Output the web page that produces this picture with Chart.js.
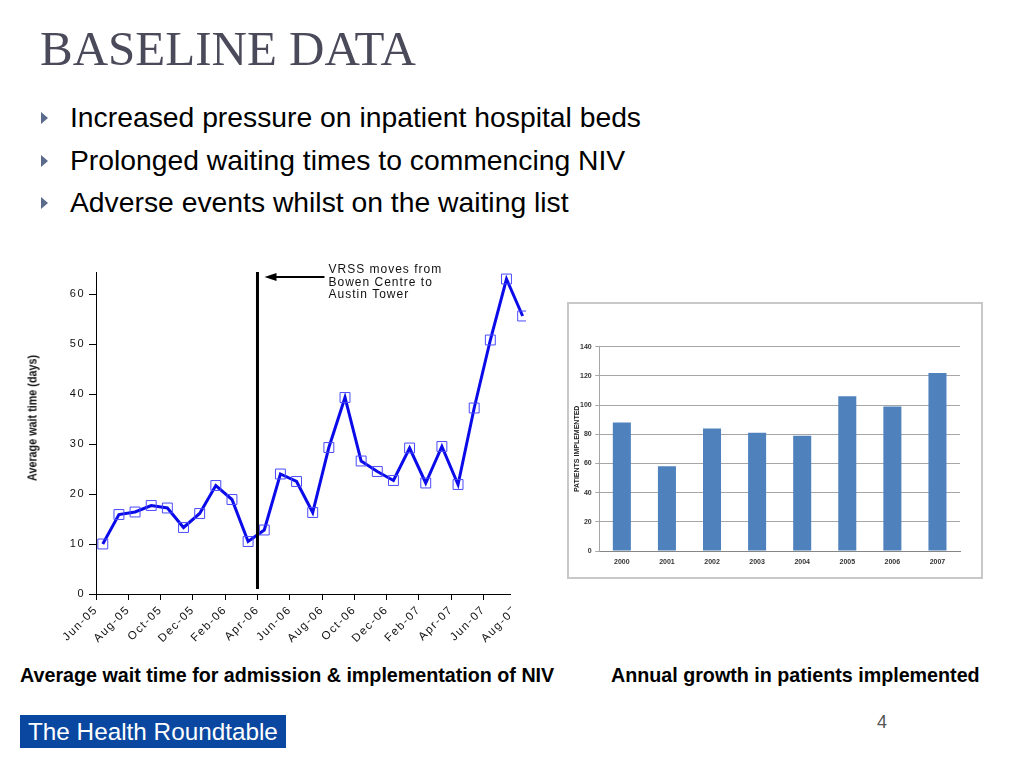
<!DOCTYPE html>
<html>
<head>
<meta charset="utf-8">
<title>Baseline data</title>
<script src="https://cdn.jsdelivr.net/npm/chart.js@4.4.1/dist/chart.umd.min.js"></script>
<style>
  html, body { margin: 0; padding: 0; background: #fff; }
  body { width: 1024px; height: 768px; position: relative; overflow: hidden; font-family: 'Liberation Sans', Arial, sans-serif; }
  .abs { position: absolute; white-space: nowrap; }
  #title { left: 40px; top: 24px; font-family: 'Liberation Serif', 'Times New Roman', serif; font-size: 49px; line-height: 49px; color: #4a4a5a; }
  .bullet { left: 70px; font-size: 28.3px; line-height: 28px; color: #000; }
  .tri { left: 41px; width: 0; height: 0; border-top: 6px solid transparent; border-bottom: 6px solid transparent; border-left: 7px solid #5a6b8c; }
  #waitWrap { left: 0; top: 250px; width: 540px; height: 400px; clip-path: polygon(0 0, 526px 0, 526px 342px, 511px 342px, 511px 400px, 0 400px); }
  #waitTitle { left: 32px; top: 418px; font-weight: bold; font-size: 13px; color: #111; transform: translate(-50%, -50%) rotate(-90deg) scaleX(0.83); }
  #growthBox { left: 567px; top: 302px; width: 416px; height: 277px; box-sizing: border-box; border: 2px solid #c8c8c8; background: #fff; }
  #growthWrap { left: 569px; top: 304px; width: 410px; height: 272px; }
  .caption { top: 665px; font-size: 19.7px; line-height: 20px; font-weight: bold; color: #000; }
  #brand { left: 20px; top: 715px; width: 266px; height: 33px; background: #0a47a0; color: #fff; font-size: 24.3px; line-height: 33px; padding-left: 8px; box-sizing: border-box; }
  #pageNo { left: 877px; top: 712px; font-size: 18px; color: #555; }
</style>
</head>
<body>
<div id="title" class="abs">BASELINE DATA</div>

<div class="abs tri" style="top:112px"></div>
<div class="abs bullet" style="top:103px">Increased pressure on inpatient hospital beds</div>
<div class="abs tri" style="top:155px"></div>
<div class="abs bullet" style="top:146px">Prolonged waiting times to commencing NIV</div>
<div class="abs tri" style="top:197px"></div>
<div class="abs bullet" style="top:188px">Adverse events whilst on the waiting list</div>

<div id="waitWrap" class="abs"><canvas id="waitChart" width="540" height="400"></canvas></div>
<div id="waitTitle" class="abs">Average wait time (days)</div>

<div id="growthBox" class="abs"></div>
<div id="growthWrap" class="abs"><canvas id="growthChart" width="410" height="272"></canvas></div>

<div class="abs caption" style="left:20px">Average wait time for admission &amp; implementation of NIV</div>
<div class="abs caption" style="left:611px">Annual growth in patients implemented</div>

<div id="brand" class="abs">The Health Roundtable</div>
<div id="pageNo" class="abs">4</div>

<script>
// Monthly average wait (days), Jun-05 .. Aug-07
const months = ['Jun-05', 'Jul-05', 'Aug-05', 'Sep-05', 'Oct-05', 'Nov-05', 'Dec-05',
    'Jan-06', 'Feb-06', 'Mar-06', 'Apr-06', 'May-06', 'Jun-06', 'Jul-06', 'Aug-06', 'Sep-06',
    'Oct-06', 'Nov-06', 'Dec-06', 'Jan-07', 'Feb-07', 'Mar-07', 'Apr-07', 'May-07', 'Jun-07',
    'Jul-07', 'Aug-07'];
const waitDays = [10.0, 15.9, 16.4, 17.7, 17.2, 13.3, 16.1, 21.7, 18.9, 10.5, 12.8, 24.0, 22.5,
    16.3, 29.3, 39.3, 26.6, 24.5, 22.7, 29.2, 22.2, 29.5, 21.9, 37.2, 50.8, 63.0, 55.6];
const waitTicks = [0, 10, 20, 30, 40, 50, 60];
const moveMonth = 'Apr-06';
const moveNote = ['VRSS moves from', 'Bowen Centre to', 'Austin Tower'];

// Patients implemented per year
const years = ['2000', '2001', '2002', '2003', '2004', '2005', '2006', '2007'];
const patients = [88, 58, 84, 81, 79, 106, 99, 122];

// points sit mid-month, ticks at the start of the month
const pointOffset = 0.42;

// Vertical marker + arrow + note for the VRSS move
const moveLine = {
    id: 'moveLine',
    beforeDraw(chart) {
        chart.ctx.letterSpacing = '1.5px';
    },
    afterDatasetsDraw(chart) {
        const { ctx, chartArea, scales: { x, y } } = chart;
        const px = x.getPixelForValue(months.indexOf(moveMonth));
        ctx.save();
        ctx.strokeStyle = '#000';
        ctx.fillStyle = '#000';
        ctx.lineWidth = 3;
        ctx.beginPath();
        ctx.moveTo(px, chartArea.top);
        ctx.lineTo(px, y.getPixelForValue(1));
        ctx.stroke();

        const ay = chartArea.top + 5;
        ctx.lineWidth = 2;
        ctx.beginPath();
        ctx.moveTo(px + 67, ay);
        ctx.lineTo(px + 14, ay);
        ctx.stroke();
        ctx.beginPath();
        ctx.moveTo(px + 7, ay);
        ctx.lineTo(px + 19, ay - 4);
        ctx.lineTo(px + 19, ay + 4);
        ctx.closePath();
        ctx.fill();

        ctx.font = '12px "Liberation Sans", Arial, sans-serif';
        ctx.letterSpacing = '1px';
        ctx.textBaseline = 'middle';
        ctx.fillStyle = '#111';
        moveNote.forEach((line, i) => {
            ctx.fillText(line, px + 71, chartArea.top - 2 + i * 12.5);
        });
        ctx.restore();
    }
};

new Chart(document.getElementById('waitChart'), {
    type: 'line',
    data: {
        datasets: [{
            data: waitDays.map((v, i) => ({ x: i + pointOffset, y: v })),
            borderColor: '#0b0bea',
            borderWidth: 3,
            tension: 0,
            pointStyle: 'rect',
            pointRadius: 7,
            pointBorderWidth: 1,
            pointBorderColor: '#4a4aff',
            pointBackgroundColor: 'rgba(0,0,0,0)',
            clip: false
        }]
    },
    options: {
        responsive: false,
        animation: false,
        layout: { padding: { top: 22, right: 5.25, left: 0, bottom: 0 } },
        plugins: { legend: { display: false }, tooltip: { enabled: false } },
        scales: {
            x: {
                type: 'linear',
                min: 0,
                max: 27,
                // one tick every second month
                afterBuildTicks: s => { s.ticks = months.map((m, i) => ({ value: i })).filter(t => t.value % 2 === 0); },
                afterFit: s => { s.height = 56; },
                ticks: {
                    autoSkip: false,
                    minRotation: 45,
                    maxRotation: 45,
                    padding: 3,
                    color: '#111',
                    font: { family: 'Liberation Sans', size: 11.5 },
                    callback: v => months[v]
                },
                grid: { drawOnChartArea: false, tickLength: 6, color: '#000' },
                border: { color: '#000', width: 1 }
            },
            y: {
                min: 0,
                max: 64.4,
                afterBuildTicks: s => { s.ticks = waitTicks.map(v => ({ value: v })); },
                afterFit: s => { s.width = 96; },
                ticks: { padding: 4, color: '#111', font: { family: 'Liberation Sans', size: 11 } },
                grid: { drawOnChartArea: false, tickLength: 7, color: '#000' },
                border: { color: '#000', width: 1 }
            }
        }
    },
    plugins: [moveLine]
});

new Chart(document.getElementById('growthChart'), {
    type: 'bar',
    data: {
        labels: years,
        datasets: [{
            data: patients,
            backgroundColor: '#4f81bd',
            barPercentage: 0.4,
            categoryPercentage: 1.0
        }]
    },
    options: {
        responsive: false,
        animation: false,
        layout: { padding: { top: 42.7, right: 19, left: 0, bottom: 0 } },
        plugins: { legend: { display: false }, tooltip: { enabled: false } },
        scales: {
            x: {
                afterFit: s => { s.height = 25; },
                ticks: { padding: 7, color: '#333', font: { family: 'Liberation Sans', size: 7, weight: 'bold' } },
                grid: { drawOnChartArea: false, drawTicks: false },
                border: { color: '#868686', width: 1 }
            },
            y: {
                min: 0,
                max: 140,
                afterFit: s => { s.width = 30.3; },
                ticks: { stepSize: 20, padding: 3.6, color: '#333', font: { family: 'Liberation Sans', size: 7, weight: 'bold' } },
                grid: { color: '#a6a6a6', tickLength: 4 },
                border: { color: '#a6a6a6', width: 1 },
                title: {
                    display: true,
                    text: 'PATIENTS IMPLEMENTED',
                    color: '#222',
                    padding: { top: 4, bottom: 0 },
                    font: { family: 'Liberation Sans', size: 7, weight: 'bold' }
                }
            }
        }
    }
});
</script>
</body>
</html>
